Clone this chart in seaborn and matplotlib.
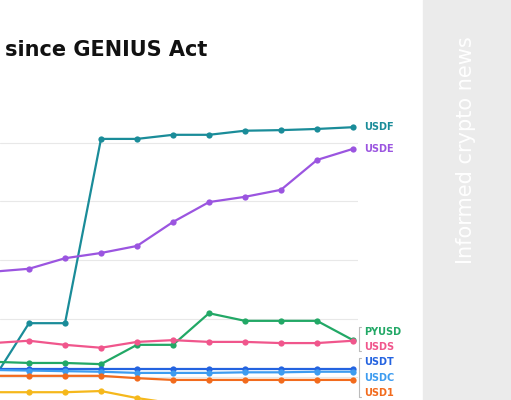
import numpy as np
import pandas as pd
import matplotlib
matplotlib.use("Agg")
import matplotlib.pyplot as plt
import seaborn as sns

# weekly points (index 0 falls just off the left edge of the crop)
weeks = list(range(11))
usdf = [-0.05, 0.92, 0.92, 4.07, 4.07, 4.14, 4.14, 4.21, 4.22, 4.24, 4.27]
usde = [1.80, 1.85, 2.03, 2.12, 2.24, 2.65, 2.99, 3.08, 3.20, 3.71, 3.90]
pyusd = [0.26, 0.24, 0.24, 0.22, 0.55, 0.55, 1.09, 0.96, 0.96, 0.96, 0.63]
usds = [0.58, 0.62, 0.55, 0.50, 0.60, 0.63, 0.60, 0.60, 0.58, 0.58, 0.62]
usdt = [0.14, 0.14, 0.14, 0.14, 0.14, 0.14, 0.14, 0.14, 0.14, 0.14, 0.14]
usdc = [0.12, 0.11, 0.10, 0.09, 0.07, 0.07, 0.07, 0.08, 0.08, 0.09, 0.09]
usd1 = [0.02, 0.02, 0.02, 0.02, -0.02, -0.05, -0.05, -0.05, -0.05, -0.05, -0.05]
other = [-0.26, -0.26, -0.26, -0.24, -0.36, -0.45, -0.50, -0.55, -0.58, -0.60, -0.62]

names = ["USDF", "USDE", "PYUSD", "USDS", "USDT", "USDC", "USD1", "OTHER"]
values = [usdf, usde, pyusd, usds, usdt, usdc, usd1, other]
colors = ["#1a8c99", "#9b55e0", "#22a866", "#f0568c", "#2463e0", "#3d9cf0", "#f26b1d", "#f5b81c"]
label_y = [4.27, 3.90, 0.77, 0.51, 0.26, -0.01, -0.27, None]

df = pd.DataFrame({n: v for n, v in zip(names, values)})
df["week"] = weeks
long = df.melt(id_vars="week", var_name="coin", value_name="value")

sns.set_style("white")
fig = plt.figure(figsize=(5.11, 4.0), dpi=100)
fig.patch.set_facecolor("white")
ax = fig.add_axes([0, -0.05, 358 / 511, 0.80])

for y in range(5):
    ax.axhline(y, color="#e8e8e8", lw=0.8, zorder=0)

sns.lineplot(data=long, x="week", y="value", hue="coin", palette=dict(zip(names, colors)),
             marker="o", markersize=4.5, markeredgewidth=0, lw=1.6, legend=False, ax=ax)

ax.set_xlim(7 / 36, 365 / 36)
ax.set_ylim(-0.735, 4.735)
ax.axis("off")

for n, c, ly in zip(names, colors, label_y):
    if ly is None:
        continue
    ax.text(10.3, ly, n, color=c, fontsize=7, fontweight="bold", va="center",
            clip_on=False)

# small brackets grouping the bottom labels
for y0, y1 in [(0.45, 0.85), (-0.35, 0.32)]:
    ax.plot([10.22, 10.18, 10.18, 10.22], [y1, y1, y0, y0], color="#bbbbbb",
            lw=0.8, clip_on=False)

fig.text(0.01, 0.875, "since GENIUS Act", fontsize=15, fontweight="bold",
         color="#111111", va="center", ha="left")

# grey side banner
fig.patches.append(plt.Rectangle((423 / 511, 0), 88 / 511, 1, transform=fig.transFigure,
                                 color="#ebebeb", zorder=-1))
fig.text(466 / 511, 0.625, "Informed crypto news", rotation=90, color="white",
         fontsize=15, ha="center", va="center")

fig.savefig("out.png", dpi=100)
